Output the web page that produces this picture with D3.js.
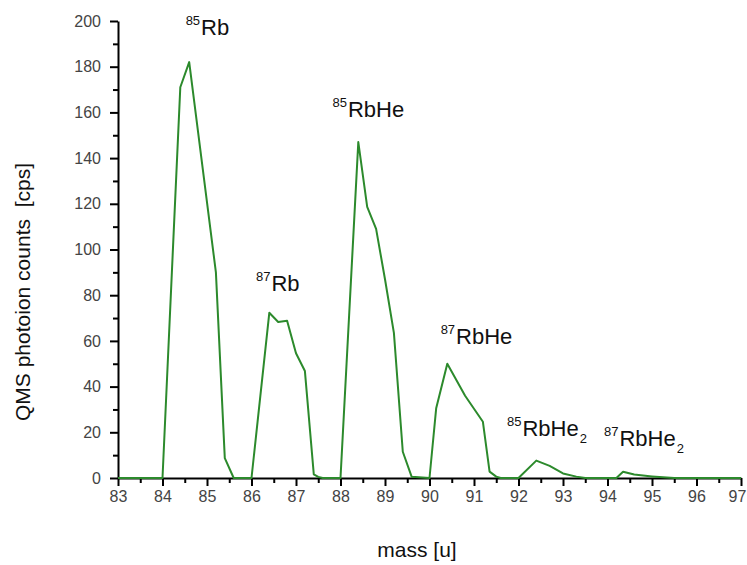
<!DOCTYPE html>
<html>
<head>
<meta charset="utf-8">
<script src="https://cdn.jsdelivr.net/npm/d3@7"></script>
<style>
  html, body { margin: 0; padding: 0; background: #fff; }
  svg { display: block; font-family: Arial, "Liberation Sans", sans-serif; }
</style>
</head>
<body>
<svg id="chart" width="747" height="565"></svg>
<script>
// Mass spectrum: QMS photoion counts vs. mass
const mass = [83, 84.0, 84.4, 84.6, 85.2, 85.4, 85.6,
  86.0, 86.4, 86.6, 86.8, 87.0, 87.2, 87.4, 87.5, 87.6,
  88.0, 88.4, 88.6, 88.8, 89.0, 89.2, 89.4, 89.6,
  90.0, 90.15, 90.4, 90.8, 91.2, 91.35, 91.5, 91.6,
  92.0, 92.4, 92.7, 93.0, 93.3, 93.5,
  94.2, 94.35, 94.6, 95.0, 95.25, 95.5, 97];
const counts = [0, 0, 171, 182, 90, 8.7, 0,
  0, 72.3, 68.3, 68.8, 54.6, 46.8, 1.6, 0.5, 0,
  0, 147, 118.7, 109, 87, 63.5, 11.5, 0.5,
  0, 30.5, 50, 36, 24.6, 2.8, 0.6, 0,
  0, 7.6, 5.3, 2, 0.6, 0,
  0, 2.7, 1.5, 0.7, 0.3, 0, 0];

const xTicks = d3.range(83, 98, 1);
const xMinorTicks = d3.range(83.5, 97, 1);
const yTicks = d3.range(0, 201, 20);
const yMinorTicks = d3.range(10, 200, 20);

// Peak annotations: isotope number, species, subscript, anchor (mass, counts)
const peakIso = ["85", "87", "85", "87", "85", "87"];
const peakName = ["Rb", "Rb", "RbHe", "RbHe", "RbHe", "RbHe"];
const peakSub = ["", "", "", "", "2", "2"];
const peakAtMass = [84.52, 86.10, 87.82, 90.25, 91.74, 93.92];
const peakAtCount = [194, 82, 158, 58.5, 18.4, 14.0];

const svg = d3.select("#chart");
const x = d3.scaleLinear().domain([83, 97]).range([118, 741]);
const y = d3.scaleLinear().domain([0, 200]).range([478, 21]);

const tickColor = "#444";

// minor ticks
svg.append("g")
  .attr("transform", `translate(0,${y(0)})`)
  .call(d3.axisBottom(x).tickValues(xMinorTicks).tickSize(5).tickFormat(""))
  .call(g => g.select(".domain").remove())
  .call(g => g.selectAll("line").attr("stroke", "#000").attr("stroke-width", 2));
svg.append("g")
  .attr("transform", `translate(${x(83)},0)`)
  .call(d3.axisLeft(y).tickValues(yMinorTicks).tickSize(5).tickFormat(""))
  .call(g => g.select(".domain").remove())
  .call(g => g.selectAll("line").attr("stroke", "#000").attr("stroke-width", 2));

// major axes
const xAxis = svg.append("g")
  .attr("transform", `translate(0,${y(0)})`)
  .call(d3.axisBottom(x).tickValues(xTicks).tickSize(8).tickSizeOuter(0).tickPadding(5).tickFormat(d3.format("d")));
const yAxis = svg.append("g")
  .attr("transform", `translate(${x(83)},0)`)
  .call(d3.axisLeft(y).tickValues(yTicks).tickSize(8).tickSizeOuter(0).tickPadding(9).tickFormat(d3.format("d")));

[xAxis, yAxis].forEach(g => {
  g.select(".domain").attr("stroke", "#000").attr("stroke-width", 2);
  g.selectAll(".tick line").attr("stroke", "#000").attr("stroke-width", 2);
  g.selectAll(".tick text")
    .attr("fill", tickColor)
    .style("font-size", "16px")
    .style("font-family", "Arial, 'Liberation Sans', sans-serif");
});
// keep the last mass label inside the frame
xAxis.selectAll(".tick text").filter(d => d === 97).attr("dx", -4);

// spectrum line
const line = d3.line().x((d, i) => x(mass[i])).y((d, i) => y(counts[i]));
svg.append("path")
  .datum(counts)
  .attr("fill", "none")
  .attr("stroke", "#2c8a2c")
  .attr("stroke-width", 2)
  .attr("stroke-linejoin", "round")
  .attr("d", line);

// axis titles
svg.append("text")
  .attr("transform", `translate(30,292) rotate(-90)`)
  .attr("text-anchor", "middle")
  .attr("fill", "#111")
  .style("font-size", "21px")
  .style("white-space", "pre")
  .text("QMS photoion counts  [cps]");

svg.append("text")
  .attr("x", 417)
  .attr("y", 557)
  .attr("text-anchor", "middle")
  .attr("fill", "#111")
  .style("font-size", "21px")
  .text("mass [u]");

// peak labels
peakIso.forEach((iso, i) => {
  const t = svg.append("text")
    .attr("x", x(peakAtMass[i]))
    .attr("y", y(peakAtCount[i]))
    .attr("fill", "#111");
  t.append("tspan").style("font-size", "13px").attr("dy", -10).text(iso);
  t.append("tspan").style("font-size", "22px").attr("dx", 1).attr("dy", 10).text(peakName[i]);
  if (peakSub[i]) {
    t.append("tspan").style("font-size", "13px").attr("dx", 1).attr("dy", 7).text(peakSub[i]);
  }
});
</script>
</body>
</html>
